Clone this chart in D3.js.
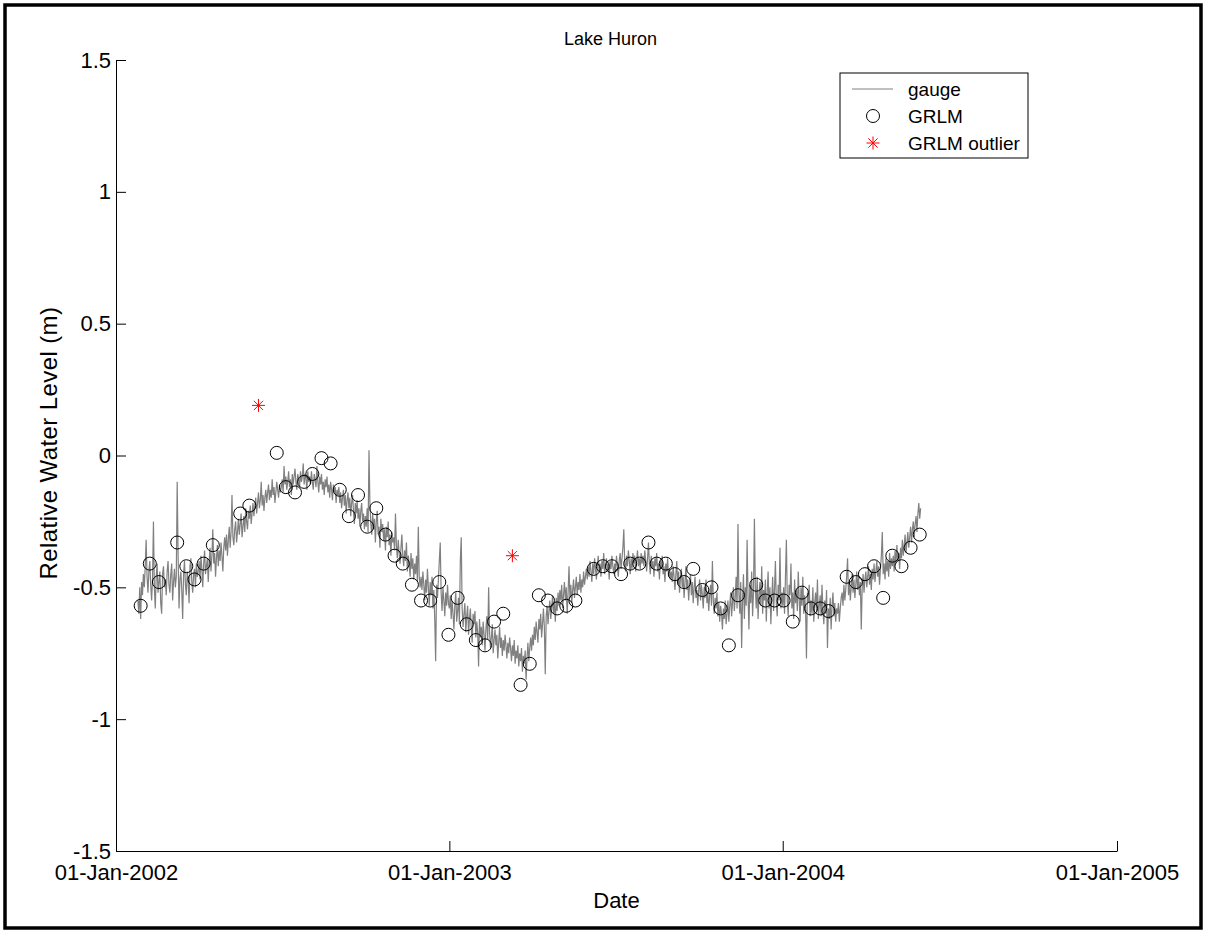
<!DOCTYPE html>
<html>
<head>
<meta charset="utf-8">
<script src="https://cdn.jsdelivr.net/npm/d3@7"></script>
<style>
  body { margin: 0; background: #fff; }
  svg { display: block; font-family: "Liberation Sans", Arial, sans-serif; }
</style>
</head>
<body>
<svg id="chart" width="1206" height="933"></svg>
<script>
// gauge: daily readings starting 25-Jan-2002, one array per month
const gaugeStart = "2002-01-25";
const gaugeMonths = [
  [-0.55,-0.60,-0.50,-0.62,-0.48,-0.53,-0.45],
  [-0.50,-0.42,-0.32,-0.46,-0.52,-0.44,-0.40,-0.49,-0.55,-0.47,-0.25,-0.50,-0.58,-0.46,-0.41,-0.52,-0.48,-0.44,-0.56,-0.60,-0.45,-0.42,-0.50,-0.47,-0.53,-0.44,-0.40,-0.49],
  [-0.52,-0.45,-0.41,-0.55,-0.48,-0.43,-0.50,-0.46,-0.10,-0.38,-0.58,-0.47,-0.44,-0.51,-0.62,-0.45,-0.40,-0.49,-0.53,-0.44,-0.47,-0.56,-0.42,-0.39,-0.48,-0.52,-0.45,-0.43,-0.50,-0.41,-0.46],
  [-0.44,-0.40,-0.47,-0.38,-0.43,-0.50,-0.41,-0.36,-0.45,-0.42,-0.39,-0.48,-0.40,-0.35,-0.44,-0.38,-0.28,-0.41,-0.37,-0.46,-0.39,-0.34,-0.42,-0.36,-0.40,-0.33,-0.38,-0.44,-0.35,-0.31],
  [-0.36,-0.30,-0.38,-0.32,-0.27,-0.35,-0.29,-0.15,-0.31,-0.34,-0.28,-0.25,-0.33,-0.29,-0.24,-0.30,-0.26,-0.22,-0.31,-0.27,-0.23,-0.29,-0.20,-0.25,-0.28,-0.21,-0.24,-0.19,-0.26,-0.22,-0.18],
  [-0.23,-0.19,-0.16,-0.22,-0.18,-0.14,-0.20,-0.17,-0.10,-0.19,-0.15,-0.21,-0.16,-0.13,-0.18,-0.14,-0.11,-0.17,-0.13,-0.16,-0.09,-0.15,-0.12,-0.18,-0.14,-0.10,-0.13,-0.16,-0.11,-0.14],
  [-0.12,-0.09,-0.14,-0.04,-0.11,-0.08,-0.13,-0.10,-0.06,-0.12,-0.09,-0.15,-0.07,-0.11,-0.08,-0.05,-0.10,-0.13,-0.07,-0.09,-0.12,-0.06,-0.10,-0.08,-0.03,-0.11,-0.07,-0.09,-0.13,-0.06,-0.10],
  [-0.08,-0.11,-0.06,-0.10,-0.13,-0.07,-0.09,-0.12,-0.04,-0.10,-0.14,-0.08,-0.11,-0.07,-0.13,-0.10,-0.15,-0.09,-0.12,-0.08,-0.14,-0.11,-0.16,-0.10,-0.13,-0.17,-0.11,-0.14,-0.12,-0.18,-0.13],
  [-0.15,-0.12,-0.18,-0.14,-0.20,-0.16,-0.13,-0.19,-0.15,-0.22,-0.17,-0.14,-0.20,-0.16,-0.23,-0.18,-0.15,-0.21,-0.26,-0.18,-0.22,-0.17,-0.24,-0.20,-0.27,-0.21,-0.18,-0.25,-0.22,-0.28],
  [-0.23,-0.27,-0.20,-0.29,0.02,-0.18,-0.26,-0.30,-0.22,-0.28,-0.24,-0.33,-0.25,-0.21,-0.30,-0.27,-0.35,-0.24,-0.29,-0.26,-0.32,-0.28,-0.36,-0.27,-0.31,-0.25,-0.34,-0.30,-0.38,-0.29,-0.33],
  [-0.31,-0.36,-0.22,-0.34,-0.39,-0.32,-0.37,-0.41,-0.35,-0.30,-0.38,-0.42,-0.36,-0.40,-0.33,-0.44,-0.38,-0.41,-0.46,-0.37,-0.43,-0.39,-0.47,-0.41,-0.45,-0.38,-0.48,-0.27,-0.46,-0.50],
  [-0.46,-0.51,-0.44,-0.49,-0.55,-0.47,-0.52,-0.43,-0.50,-0.57,-0.48,-0.53,-0.46,-0.58,-0.51,-0.62,-0.78,-0.49,-0.54,-0.47,-0.40,-0.33,-0.52,-0.59,-0.50,-0.55,-0.61,-0.52,-0.57,-0.49,-0.56],
  [-0.58,-0.53,-0.62,-0.55,-0.60,-0.66,-0.57,-0.52,-0.63,-0.59,-0.54,-0.64,-0.40,-0.31,-0.58,-0.65,-0.60,-0.56,-0.67,-0.61,-0.57,-0.68,-0.62,-0.58,-0.66,-0.71,-0.60,-0.64,-0.59,-0.69,-0.63],
  [-0.67,-0.80,-0.62,-0.69,-0.65,-0.72,-0.63,-0.68,-0.74,-0.66,-0.61,-0.70,-0.50,-0.67,-0.73,-0.69,-0.64,-0.75,-0.70,-0.66,-0.72,-0.68,-0.77,-0.71,-0.65,-0.73,-0.69,-0.76],
  [-0.70,-0.74,-0.68,-0.72,-0.77,-0.71,-0.75,-0.69,-0.73,-0.78,-0.72,-0.76,-0.70,-0.79,-0.74,-0.77,-0.72,-0.80,-0.75,-0.78,-0.73,-0.82,-0.76,-0.79,-0.74,-0.85,-0.77,-0.71,-0.78,-0.73,-0.69],
  [-0.74,-0.68,-0.72,-0.65,-0.70,-0.63,-0.67,-0.71,-0.62,-0.66,-0.60,-0.69,-0.64,-0.58,-0.65,-0.83,-0.61,-0.57,-0.64,-0.59,-0.55,-0.62,-0.58,-0.53,-0.60,-0.56,-0.63,-0.54,-0.59,-0.52],
  [-0.57,-0.51,-0.55,-0.49,-0.58,-0.53,-0.48,-0.55,-0.50,-0.60,-0.52,-0.42,-0.54,-0.49,-0.56,-0.51,-0.47,-0.54,-0.50,-0.46,-0.53,-0.48,-0.51,-0.45,-0.52,-0.47,-0.50,-0.44,-0.49,-0.46,-0.43],
  [-0.47,-0.42,-0.46,-0.40,-0.44,-0.48,-0.41,-0.45,-0.39,-0.43,-0.47,-0.42,-0.38,-0.44,-0.41,-0.46,-0.40,-0.43,-0.37,-0.45,-0.42,-0.39,-0.44,-0.41,-0.47,-0.40,-0.43,-0.38,-0.42,-0.45],
  [-0.41,-0.44,-0.38,-0.42,-0.46,-0.40,-0.37,-0.43,-0.39,-0.35,-0.28,-0.41,-0.44,-0.38,-0.42,-0.36,-0.40,-0.45,-0.39,-0.43,-0.37,-0.41,-0.38,-0.44,-0.40,-0.36,-0.42,-0.39,-0.43,-0.37,-0.41],
  [-0.38,-0.42,-0.36,-0.40,-0.44,-0.39,-0.33,-0.41,-0.45,-0.38,-0.43,-0.40,-0.46,-0.39,-0.42,-0.37,-0.44,-0.41,-0.47,-0.40,-0.43,-0.38,-0.45,-0.42,-0.48,-0.41,-0.44,-0.39,-0.46,-0.43,-0.47],
  [-0.44,-0.48,-0.42,-0.46,-0.51,-0.45,-0.40,-0.49,-0.44,-0.52,-0.47,-0.43,-0.50,-0.46,-0.54,-0.48,-0.42,-0.51,-0.47,-0.55,-0.49,-0.45,-0.53,-0.48,-0.56,-0.50,-0.46,-0.54,-0.51,-0.57],
  [-0.51,-0.47,-0.55,-0.49,-0.53,-0.58,-0.50,-0.54,-0.47,-0.56,-0.52,-0.59,-0.53,-0.49,-0.57,-0.40,-0.55,-0.60,-0.54,-0.58,-0.52,-0.61,-0.56,-0.63,-0.57,-0.60,-0.66,-0.58,-0.62,-0.55,-0.64],
  [-0.60,-0.55,-0.63,-0.57,-0.52,-0.61,-0.56,-0.50,-0.59,-0.54,-0.46,-0.58,-0.26,-0.52,-0.60,-0.48,-0.73,-0.55,-0.45,-0.62,-0.50,-0.57,-0.32,-0.53,-0.66,-0.49,-0.56,-0.44,-0.61,-0.52],
  [-0.24,-0.50,-0.58,-0.46,-0.62,-0.53,-0.48,-0.57,-0.42,-0.60,-0.51,-0.55,-0.47,-0.63,-0.52,-0.44,-0.58,-0.50,-0.64,-0.54,-0.46,-0.59,-0.51,-0.40,-0.56,-0.61,-0.49,-0.55,-0.35,-0.58,-0.52],
  [-0.57,-0.50,-0.60,-0.46,-0.32,-0.55,-0.61,-0.49,-0.53,-0.41,-0.58,-0.52,-0.62,-0.47,-0.56,-0.51,-0.59,-0.44,-0.54,-0.63,-0.50,-0.57,-0.46,-0.60,-0.53,-0.58,-0.77,-0.52,-0.56,-0.49,-0.61],
  [-0.55,-0.60,-0.50,-0.63,-0.56,-0.52,-0.59,-0.47,-0.62,-0.57,-0.53,-0.61,-0.49,-0.58,-0.64,-0.55,-0.60,-0.51,-0.73,-0.58,-0.62,-0.54,-0.66,-0.57,-0.52,-0.61,-0.56,-0.63,-0.58],
  [-0.60,-0.56,-0.63,-0.58,-0.54,-0.52,-0.57,-0.49,-0.55,-0.51,-0.46,-0.39,-0.53,-0.48,-0.55,-0.50,-0.45,-0.52,-0.47,-0.54,-0.49,-0.44,-0.51,-0.46,-0.53,-0.48,-0.66,-0.50,-0.45,-0.52,-0.47],
  [-0.44,-0.50,-0.46,-0.42,-0.49,-0.45,-0.51,-0.43,-0.47,-0.41,-0.48,-0.44,-0.40,-0.46,-0.42,-0.49,-0.43,-0.38,-0.29,-0.45,-0.41,-0.47,-0.39,-0.44,-0.40,-0.46,-0.37,-0.43,-0.39,-0.42],
  [-0.38,-0.44,-0.36,-0.41,-0.34,-0.40,-0.37,-0.43,-0.35,-0.39,-0.32,-0.38,-0.34,-0.30,-0.37,-0.33,-0.29,-0.35,-0.31,-0.27,-0.33,-0.28,-0.25,-0.31,-0.26,-0.23,-0.29,-0.22,-0.18,-0.24,-0.20]
];

// GRLM altimetry (10-day passes)
const grlmDates = [
  "2002-01-28","2002-02-07","2002-02-17","2002-03-09","2002-03-19","2002-03-28","2002-04-07","2002-04-17",
  "2002-05-17","2002-05-27","2002-06-26","2002-07-06","2002-07-16","2002-07-26","2002-08-04","2002-08-14",
  "2002-08-24","2002-09-03","2002-09-13","2002-09-23","2002-10-03","2002-10-13","2002-10-23","2002-11-02",
  "2002-11-11","2002-11-21","2002-12-01","2002-12-11","2002-12-21","2002-12-31","2003-01-10","2003-01-20",
  "2003-01-30","2003-02-09","2003-02-19","2003-03-01","2003-03-20","2003-03-30","2003-04-09","2003-04-19",
  "2003-04-29","2003-05-09","2003-05-19","2003-06-08","2003-06-18","2003-06-28","2003-07-08","2003-07-18",
  "2003-07-28","2003-08-07","2003-08-16","2003-08-26","2003-09-05","2003-09-15","2003-09-25","2003-10-05",
  "2003-10-15","2003-10-25","2003-11-03","2003-11-13","2003-12-03","2003-12-13","2003-12-23","2004-01-02",
  "2004-01-12","2004-01-22","2004-02-01","2004-02-11","2004-02-20","2004-03-11","2004-03-21","2004-03-31",
  "2004-04-10","2004-04-20","2004-04-30","2004-05-10","2004-05-20","2004-05-30"
];
const grlmValues = [
  -0.57,-0.41,-0.48,-0.33,-0.42,-0.47,-0.41,-0.34,
  -0.22,-0.19,0.01,-0.12,-0.14,-0.10,-0.07,-0.01,
  -0.03,-0.13,-0.23,-0.15,-0.27,-0.20,-0.30,-0.38,
  -0.41,-0.49,-0.55,-0.55,-0.48,-0.68,-0.54,-0.64,
  -0.70,-0.72,-0.63,-0.60,-0.87,-0.79,-0.53,-0.55,
  -0.58,-0.57,-0.55,-0.43,-0.42,-0.42,-0.45,-0.41,
  -0.41,-0.33,-0.41,-0.41,-0.45,-0.48,-0.43,-0.51,
  -0.50,-0.58,-0.72,-0.53,-0.49,-0.55,-0.55,-0.55,
  -0.63,-0.52,-0.58,-0.58,-0.59,-0.46,-0.48,-0.45,
  -0.42,-0.54,-0.38,-0.42,-0.35,-0.30
];
const outlierDates = ["2002-06-06", "2003-03-11"];
const outlierValues = [0.19, -0.38];

const xTickDates = ["2002-01-01", "2003-01-01", "2004-01-01", "2005-01-01"];
const yTicks = [-1.5, -1, -0.5, 0, 0.5, 1, 1.5];
const legendLabels = ["gauge", "GRLM", "GRLM outlier"];

const parse = d3.utcParse("%Y-%m-%d");
const fmt = d3.utcFormat("%d-%b-%Y");

const svg = d3.select("#chart");
const plotL = 116, plotR = 1117, plotT = 60, plotB = 851;

const x = d3.scaleUtc()
  .domain([parse(xTickDates[0]), parse(xTickDates[3])])
  .range([plotL, plotR]);
const y = d3.scaleLinear().domain([-1.5, 1.5]).range([plotB, plotT]);

// figure frame
svg.append("rect")
  .attr("x", 5).attr("y", 5).attr("width", 1196).attr("height", 923)
  .attr("fill", "#fff").attr("stroke", "#000").attr("stroke-width", 3.5);

// gauge line
const gauge = [];
const g0 = parse(gaugeStart);
gaugeMonths.flat().forEach((v, i) => gauge.push({ date: d3.utcDay.offset(g0, i), value: v }));

const line = d3.line().x(d => x(d.date)).y(d => y(d.value));
svg.append("path")
  .datum(gauge)
  .attr("d", line)
  .attr("fill", "none")
  .attr("stroke", "#808080")
  .attr("stroke-width", 1.2);

// GRLM circles
svg.append("g").selectAll("circle")
  .data(grlmDates.map((d, i) => ({ date: parse(d), value: grlmValues[i] })))
  .enter().append("circle")
  .attr("cx", d => x(d.date))
  .attr("cy", d => y(d.value))
  .attr("r", 6.5)
  .attr("fill", "none")
  .attr("stroke", "#000")
  .attr("stroke-width", 1);

// asterisk marker, as in matlab '*'
function star(s) {
  const d = s * 0.7071;
  return `M${-s},0L${s},0M0,${-s}L0,${s}M${-d},${-d}L${d},${d}M${-d},${d}L${d},${-d}`;
}

svg.append("g").selectAll("path")
  .data(outlierDates.map((d, i) => ({ date: parse(d), value: outlierValues[i] })))
  .enter().append("path")
  .attr("transform", d => `translate(${x(d.date)},${y(d.value)})`)
  .attr("d", star(6.5))
  .attr("fill", "none")
  .attr("stroke", "#ff0000")
  .attr("stroke-width", 1);

// axes (ticks point inward, no box)
const xAxis = d3.axisBottom(x)
  .tickValues(xTickDates.map(parse))
  .tickFormat(fmt)
  .tickSizeInner(-10).tickSizeOuter(0).tickPadding(13);
const yAxis = d3.axisLeft(y)
  .tickValues(yTicks)
  .tickFormat(d => String(d))
  .tickSizeInner(-10).tickSizeOuter(0).tickPadding(5);

const gx = svg.append("g").attr("transform", `translate(0,${plotB})`).call(xAxis);
const gy = svg.append("g").attr("transform", `translate(${plotL},0)`).call(yAxis);
[gx, gy].forEach(g => {
  g.select(".domain").attr("stroke", "#000");
  g.selectAll(".tick line").attr("stroke", "#000");
  g.selectAll("text").attr("fill", "#000").style("font-size", "22px")
    .style("font-family", "'Liberation Sans', Arial, sans-serif");
});

// labels
svg.append("text")
  .attr("x", (plotL + plotR) / 2 - 6).attr("y", 45)
  .attr("text-anchor", "middle").style("font-size", "18px")
  .text("Lake Huron");
svg.append("text")
  .attr("x", (plotL + plotR) / 2).attr("y", 908)
  .attr("text-anchor", "middle").style("font-size", "22px")
  .text("Date");
svg.append("text")
  .attr("transform", `translate(57,443) rotate(-90)`)
  .attr("text-anchor", "middle").style("font-size", "24px")
  .style("letter-spacing", "0.4px")
  .text("Relative Water Level (m)");

// legend
const lg = svg.append("g").attr("transform", "translate(840,73)");
lg.append("rect").attr("width", 188).attr("height", 85)
  .attr("fill", "#fff").attr("stroke", "#000").attr("stroke-width", 1);
const rowY = [16, 43, 70];
lg.append("line").attr("x1", 12).attr("x2", 53).attr("y1", rowY[0]).attr("y2", rowY[0])
  .attr("stroke", "#808080").attr("stroke-width", 1);
lg.append("circle").attr("cx", 33).attr("cy", rowY[1]).attr("r", 6.5)
  .attr("fill", "none").attr("stroke", "#000");
lg.append("path").attr("transform", `translate(33,${rowY[2]})`).attr("d", star(6.5))
  .attr("fill", "none").attr("stroke", "#ff0000");
lg.selectAll("text.lab")
  .data(legendLabels)
  .enter().append("text")
  .attr("class", "lab")
  .attr("x", 68)
  .attr("y", (d, i) => rowY[i])
  .attr("dy", "0.36em")
  .style("font-size", "19px")
  .text(d => d);
</script>
</body>
</html>
